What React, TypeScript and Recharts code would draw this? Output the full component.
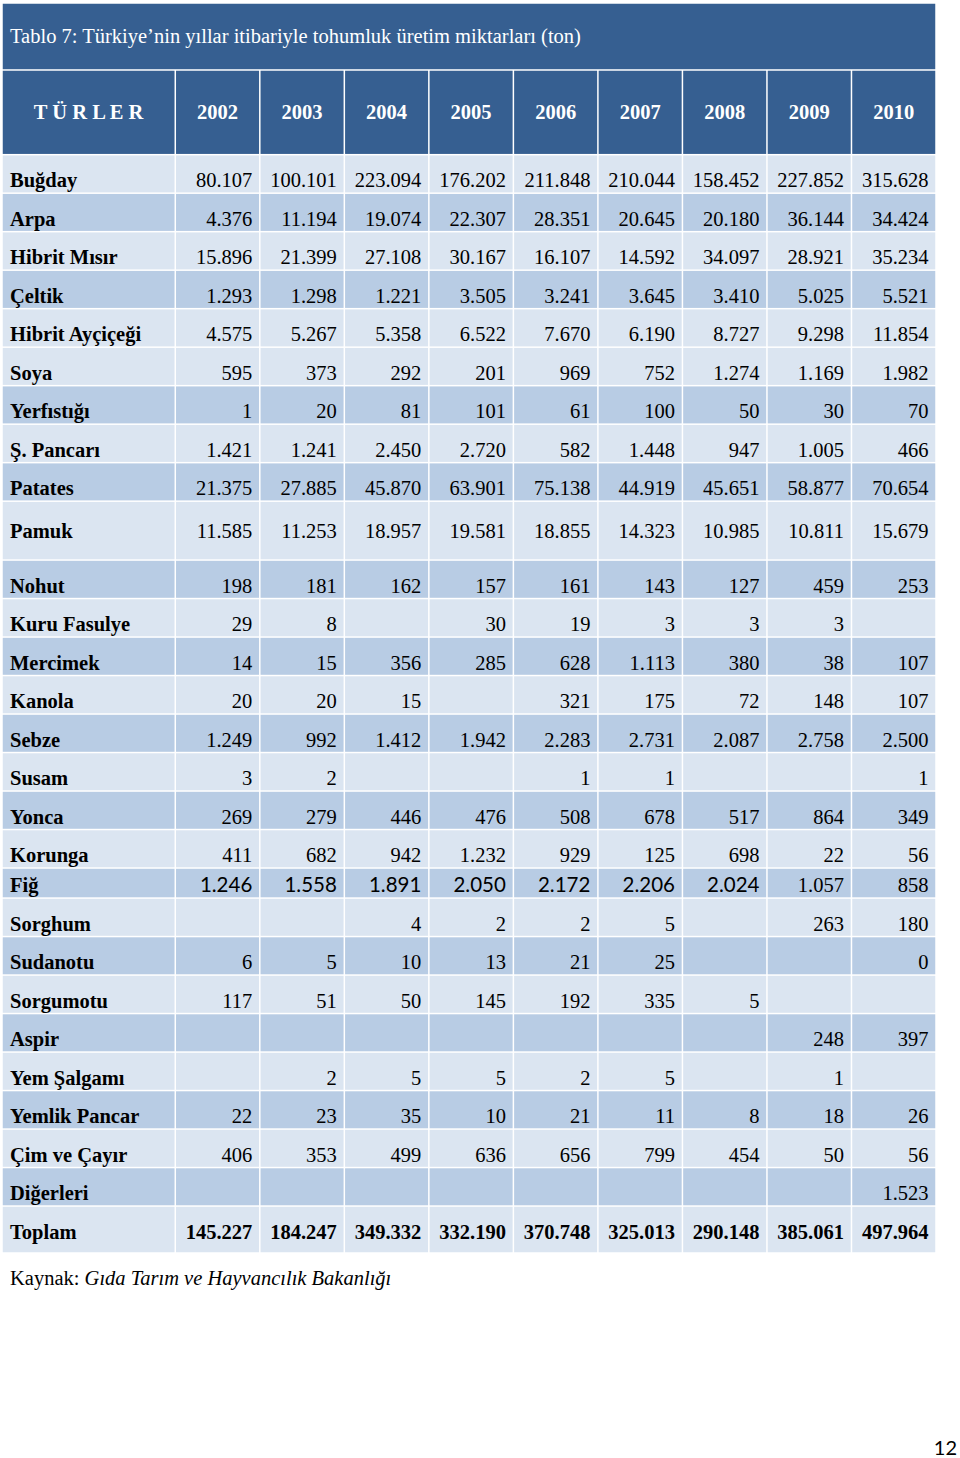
import React from "react";
import { ScatterChart, Scatter, XAxis, YAxis } from "recharts";

const title = "Tablo 7: Türkiye’nin yıllar itibariyle tohumluk üretim miktarları (ton)";
const firstHeader = "T Ü R L E R";
const years = ["2002", "2003", "2004", "2005", "2006", "2007", "2008", "2009", "2010"];

const crops = [
  "Buğday", "Arpa", "Hibrit Mısır", "Çeltik", "Hibrit Ayçiçeği", "Soya", "Yerfıstığı",
  "Ş. Pancarı", "Patates", "Pamuk", "Nohut", "Kuru Fasulye", "Mercimek", "Kanola", "Sebze",
  "Susam", "Yonca", "Korunga", "Fiğ", "Sorghum", "Sudanotu", "Sorgumotu", "Aspir",
  "Yem Şalgamı", "Yemlik Pancar", "Çim ve Çayır", "Diğerleri", "Toplam",
];

// tonnes per crop, same order as crops (null = empty cell)
const y2002 = [80107, 4376, 15896, 1293, 4575, 595, 1, 1421, 21375, 11585, 198, 29, 14, 20, 1249, 3, 269, 411, 1246, null, 6, 117, null, null, 22, 406, null, 145227];
const y2003 = [100101, 11194, 21399, 1298, 5267, 373, 20, 1241, 27885, 11253, 181, 8, 15, 20, 992, 2, 279, 682, 1558, null, 5, 51, null, 2, 23, 353, null, 184247];
const y2004 = [223094, 19074, 27108, 1221, 5358, 292, 81, 2450, 45870, 18957, 162, null, 356, 15, 1412, null, 446, 942, 1891, 4, 10, 50, null, 5, 35, 499, null, 349332];
const y2005 = [176202, 22307, 30167, 3505, 6522, 201, 101, 2720, 63901, 19581, 157, 30, 285, null, 1942, null, 476, 1232, 2050, 2, 13, 145, null, 5, 10, 636, null, 332190];
const y2006 = [211848, 28351, 16107, 3241, 7670, 969, 61, 582, 75138, 18855, 161, 19, 628, 321, 2283, 1, 508, 929, 2172, 2, 21, 192, null, 2, 21, 656, null, 370748];
const y2007 = [210044, 20645, 14592, 3645, 6190, 752, 100, 1448, 44919, 14323, 143, 3, 1113, 175, 2731, 1, 678, 125, 2206, 5, 25, 335, null, 5, 11, 799, null, 325013];
const y2008 = [158452, 20180, 34097, 3410, 8727, 1274, 50, 947, 45651, 10985, 127, 3, 380, 72, 2087, null, 517, 698, 2024, null, null, 5, null, null, 8, 454, null, 290148];
const y2009 = [227852, 36144, 28921, 5025, 9298, 1169, 30, 1005, 58877, 10811, 459, 3, 38, 148, 2758, null, 864, 22, 1057, 263, null, null, 248, 1, 18, 50, null, 385061];
const y2010 = [315628, 34424, 35234, 5521, 11854, 1982, 70, 466, 70654, 15679, 253, null, 107, 107, 2500, 1, 349, 56, 858, 180, 0, null, 397, null, 26, 56, 1523, 497964];
const series = [y2002, y2003, y2004, y2005, y2006, y2007, y2008, y2009, y2010];

const sourceLabel = "Kaynak: ";
const sourceName = "Gıda Tarım ve Hayvancılık Bakanlığı";
const pageNo = "12";

// layout / style
const W = 960;
const H = 1458;
const M = { top: 3, right: 24, bottom: 205, left: 2 };
const plotW = W - M.left - M.right;
const plotH = H - M.top - M.bottom;
const colWeights = [2.05, 1, 1, 1, 1, 1, 1, 1, 1, 1];
const rowWeights: Record<string, number> = { Pamuk: 1.53, "Fiğ": 0.78, Toplam: 1.22 };
const TITLE_ROW = 1.74;
const HEAD_ROW = 2.2;
const shaded = new Set(["Arpa", "Çeltik", "Yerfıstığı", "Patates", "Nohut", "Mercimek", "Sebze", "Yonca", "Fiğ", "Sudanotu", "Aspir", "Yemlik Pancar", "Diğerleri"]);
const DARK = "#365f91";
const LIGHT = "#dbe5f1";
const MID = "#b8cce4";
const SERIF = "'Liberation Serif', 'Times New Roman', serif";
const SANS = "Lato, 'Liberation Sans', sans-serif";

const totalCols = colWeights.reduce((a, b) => a + b, 0);
const bodyHeights = crops.map((c) => rowWeights[c] ?? 1);
const totalRows = TITLE_ROW + HEAD_ROW + bodyHeights.reduce((a, b) => a + b, 0);
const pxX = plotW / totalCols;
const pxY = plotH / totalRows;

const fmt = (v: number | null) =>
  v == null ? "" : String(v).replace(/\B(?=(\d{3})+(?!\d))/g, ".");

type Cell = {
  x: number;
  y: number;
  w: number;
  h: number;
  text: string;
  fill: string;
  color: string;
  align: "start" | "middle" | "end";
  bold: boolean;
  size: number;
  font: string;
  kind: "title" | "head" | "body";
};

const colStart = (i: number) => colWeights.slice(0, i).reduce((a, b) => a + b, 0);

function buildCells(): Cell[] {
  const cells: Cell[] = [];
  cells.push({
    x: totalCols / 2, y: TITLE_ROW / 2, w: totalCols, h: TITLE_ROW, text: title,
    fill: DARK, color: "#fff", align: "start", bold: false, size: 20.5, font: SERIF, kind: "title",
  });
  const headers = [firstHeader, ...years];
  headers.forEach((t, i) => {
    cells.push({
      x: colStart(i) + colWeights[i] / 2, y: TITLE_ROW + HEAD_ROW / 2, w: colWeights[i], h: HEAD_ROW,
      text: t, fill: DARK, color: "#fff", align: "middle", bold: true, size: 20.5, font: SERIF, kind: "head",
    });
  });
  let top = TITLE_ROW + HEAD_ROW;
  crops.forEach((crop, r) => {
    const h = bodyHeights[r];
    const fill = shaded.has(crop) ? MID : LIGHT;
    const total = crop === "Toplam";
    cells.push({
      x: colWeights[0] / 2, y: top + h / 2, w: colWeights[0], h, text: crop, fill, color: "#000",
      align: "start", bold: true, size: 20.5, font: SERIF, kind: "body",
    });
    series.forEach((vals, c) => {
      const sans = crop === "Fiğ" && c < 7;
      cells.push({
        x: colStart(c + 1) + colWeights[c + 1] / 2, y: top + h / 2, w: colWeights[c + 1], h,
        text: fmt(vals[r]), fill, color: "#000", align: "end", bold: total,
        size: 20.5, font: sans ? SANS : SERIF, kind: "body",
      });
    });
    top += h;
  });
  return cells;
}

const cells = buildCells();

const CellShape = (props: any) => {
  const d = props.payload as Cell;
  const w = d.w * pxX;
  const h = d.h * pxY;
  const left = props.cx - w / 2;
  const top = props.cy - h / 2;
  const tx = d.align === "start" ? left + 8 : d.align === "end" ? left + w - 7.5 : left + w / 2;
  const ty = d.kind === "body" ? top + Math.min(33, h - 6) + (h > 50 ? 4 : 0) : props.cy + 7;
  return (
    <g>
      <rect x={left + 0.75} y={top + 0.75} width={w - 1.5} height={h - 1.5} fill={d.fill} />
      {d.text !== "" && (
        <text
          x={tx}
          y={ty}
          textAnchor={d.align}
          fill={d.color}
          fontFamily={d.font}
          fontSize={d.size}
          fontWeight={d.bold ? "bold" : "normal"}
        >
          {d.text}
        </text>
      )}
    </g>
  );
};

export default function App() {
  return (
    <div style={{ position: "absolute", left: 0, top: 0, width: W, height: H, background: "#fff" }}>
      <ScatterChart width={W} height={H} margin={M}>
        <XAxis type="number" dataKey="x" domain={[0, totalCols]} hide allowDataOverflow />
        <YAxis type="number" dataKey="y" domain={[0, totalRows]} reversed hide allowDataOverflow />
        <Scatter data={cells} shape={CellShape} isAnimationActive={false} />
      </ScatterChart>
      <svg width={W} height={H} style={{ position: "absolute", left: 0, top: 0, pointerEvents: "none" }}>
        <text x={10} y={1285} fontFamily={SERIF} fontSize={20.5} fill="#000">
          {sourceLabel}
          <tspan fontStyle="italic">{sourceName}</tspan>
        </text>
        <text x={957} y={1455} textAnchor="end" fontFamily={SANS} fontSize={20} fill="#000">
          {pageNo}
        </text>
      </svg>
    </div>
  );
}
